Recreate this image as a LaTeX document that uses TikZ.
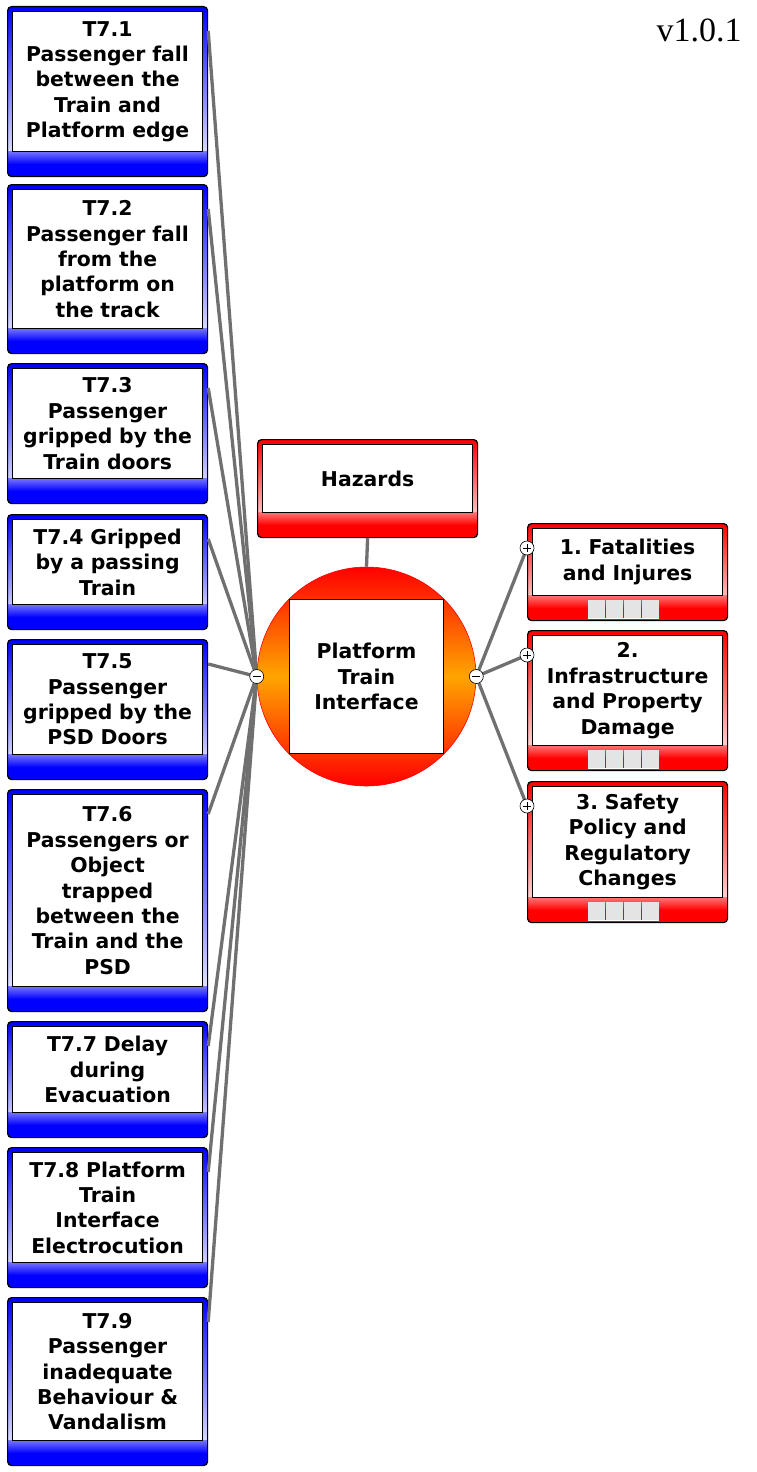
\documentclass[tikz,border=0pt]{standalone}
\usepackage{fontspec}
\setmainfont{DejaVu Sans}
\newfontfamily\versionfont{Liberation Serif}
\usetikzlibrary{positioning,calc}
\definecolor{LinkGray}{RGB}{112,112,112}
\definecolor{HubOrange}{RGB}{255,165,0}
\definecolor{CellGray}{RGB}{228,228,228}

\tikzset{
  card/.style={draw=black, line width=1.2pt, rounded corners=4pt,
    minimum width=200pt, inner sep=0pt,
    path picture={
      \fill[sharp corners, top color=#1, bottom color=white]
        (path picture bounding box.north west) rectangle
        ([yshift=25pt]path picture bounding box.south east);
      \fill[sharp corners, top color=#1!55, bottom color=#1, middle color=#1]
        (path picture bounding box.south west) rectangle
        ([yshift=25pt]path picture bounding box.south east);
    }},
  cardtext/.style={draw=black, line width=0.8pt, fill=white, inner sep=0pt,
    align=center, text width=188pt, minimum width=190pt,
    font=\fontsize{20.4}{25.4}\selectfont\bfseries\frenchspacing},
  link/.style={draw=LinkGray, line width=3.3pt},
  toggle/.style={circle, draw=black, fill=white, line width=0.6pt,
    minimum size=14pt, inner sep=0pt},
  collapser/.style={toggle, path picture={
      \draw[line width=0.8pt]
        ([xshift=-4pt]path picture bounding box.center) --
        ([xshift=4pt]path picture bounding box.center);}},
  expander/.style={toggle, path picture={
      \draw[line width=0.8pt]
        ([xshift=-4pt]path picture bounding box.center) --
        ([xshift=4pt]path picture bounding box.center)
        ([yshift=-4pt]path picture bounding box.center) --
        ([yshift=4pt]path picture bounding box.center);}}
}

\begin{document}
\begin{tikzpicture}[x=1pt,y=-1pt]
  \useasboundingbox (0,0) rectangle (757,1472);
  %% Version tag
  \node[font=\versionfont\fontsize{34}{40}\selectfont, anchor=base]
       (ver) at (699,42) {v1.0.1};
  %% Central hub
  \node[circle, minimum size=219pt, draw=red, line width=0.6pt,
        top color=red, bottom color=red, middle color=HubOrange]
       (hub) at (366.5,676.5) {};
  \node[draw=black, line width=0.8pt, fill=white, minimum size=154pt,
        inner sep=0pt, align=center,
        font=\fontsize{20.4}{25.4}\selectfont\bfseries]
       (hub-t) at (hub.center) {Platform\\Train\\Interface};
  %% Hazards header
  \node[card=red, minimum width=220pt, minimum height=98pt,
        anchor=north west] (haz) at (257,439) {};
  \node[cardtext, text width=208pt, minimum width=210pt,
        minimum height=68pt] (haz-t)
       at ($([yshift=-5pt]haz.north)!0.5!([yshift=25pt]haz.south)$) {Hazards};
  \draw[link] (haz.south) -- (hub.north);
  %% Threats (left)
  \foreach \nm/\yy/\hh/\lbl in {
      t71/6/170/{T7.1\\Passenger fall\\between the\\Train and\\Platform edge},
      t72/184/169/{T7.2\\Passenger fall\\from the\\platform on\\the track},
      t73/363/140/{T7.3\\Passenger\\gripped by the\\Train doors},
      t74/514/115/{T7.4 Gripped\\by a passing\\Train},
      t75/639/140/{T7.5\\Passenger\\gripped by the\\PSD Doors},
      t76/789/222/{T7.6\\Passengers or\\Object\\trapped\\between the\\Train and the\\PSD},
      t77/1021/116/{T7.7 Delay\\during\\Evacuation},
      t78/1147/140/{T7.8 Platform\\Train\\Interface\\Electrocution},
      t79/1297/168/{T7.9\\Passenger\\inadequate\\Behaviour \&\\Vandalism}}{
    \node[card=blue, minimum height=\hh, anchor=north west] (\nm) at (7,\yy) {};
    \node[cardtext, minimum height=\hh-30] (\nm-t)
         at ($([yshift=-5pt]\nm.north)!0.5!([yshift=25pt]\nm.south)$) {\lbl};
  }
  \foreach \nm in {t71,t72,t73,t74,t75,t76,t77,t78,t79}
    \draw[link] ([yshift=-25pt]\nm.north east) -- (hub.west);
  %% Consequences (right)
  \foreach \nm/\yy/\hh/\lbl in {
      r1/523/97/{1. Fatalities\\and Injures},
      r2/630/140/{2.\\Infrastructure\\and Property\\Damage},
      r3/781/141/{3. Safety\\Policy and\\Regulatory\\Changes}}{
    \node[card=red, minimum height=\hh, anchor=north west] (\nm) at (527,\yy) {};
    \node[cardtext, minimum height=\hh-30] (\nm-t)
         at ($([yshift=-5pt]\nm.north)!0.5!([yshift=25pt]\nm.south)$) {\lbl};
    \foreach \i in {0,1,2,3}
      \fill[CellGray] ($(\nm.south)+(-40+18*\i,-3)$) rectangle +(17,-18);
    \draw[white, line width=0.8pt] ($(\nm.south)+(-40,-2.6)$) -- +(71,0);
    \coordinate (\nm-in) at ([yshift=-25pt]\nm.north west);
    \draw[link] (hub.east) -- (\nm-in);
  }
  %% Toggles
  \node[collapser] (ml) at (hub.west) {};
  \node[collapser] (mr) at (hub.east) {};
  \foreach \nm in {r1,r2,r3}
    \node[expander] (\nm-plus) at (\nm-in) {};
\end{tikzpicture}
\end{document}
